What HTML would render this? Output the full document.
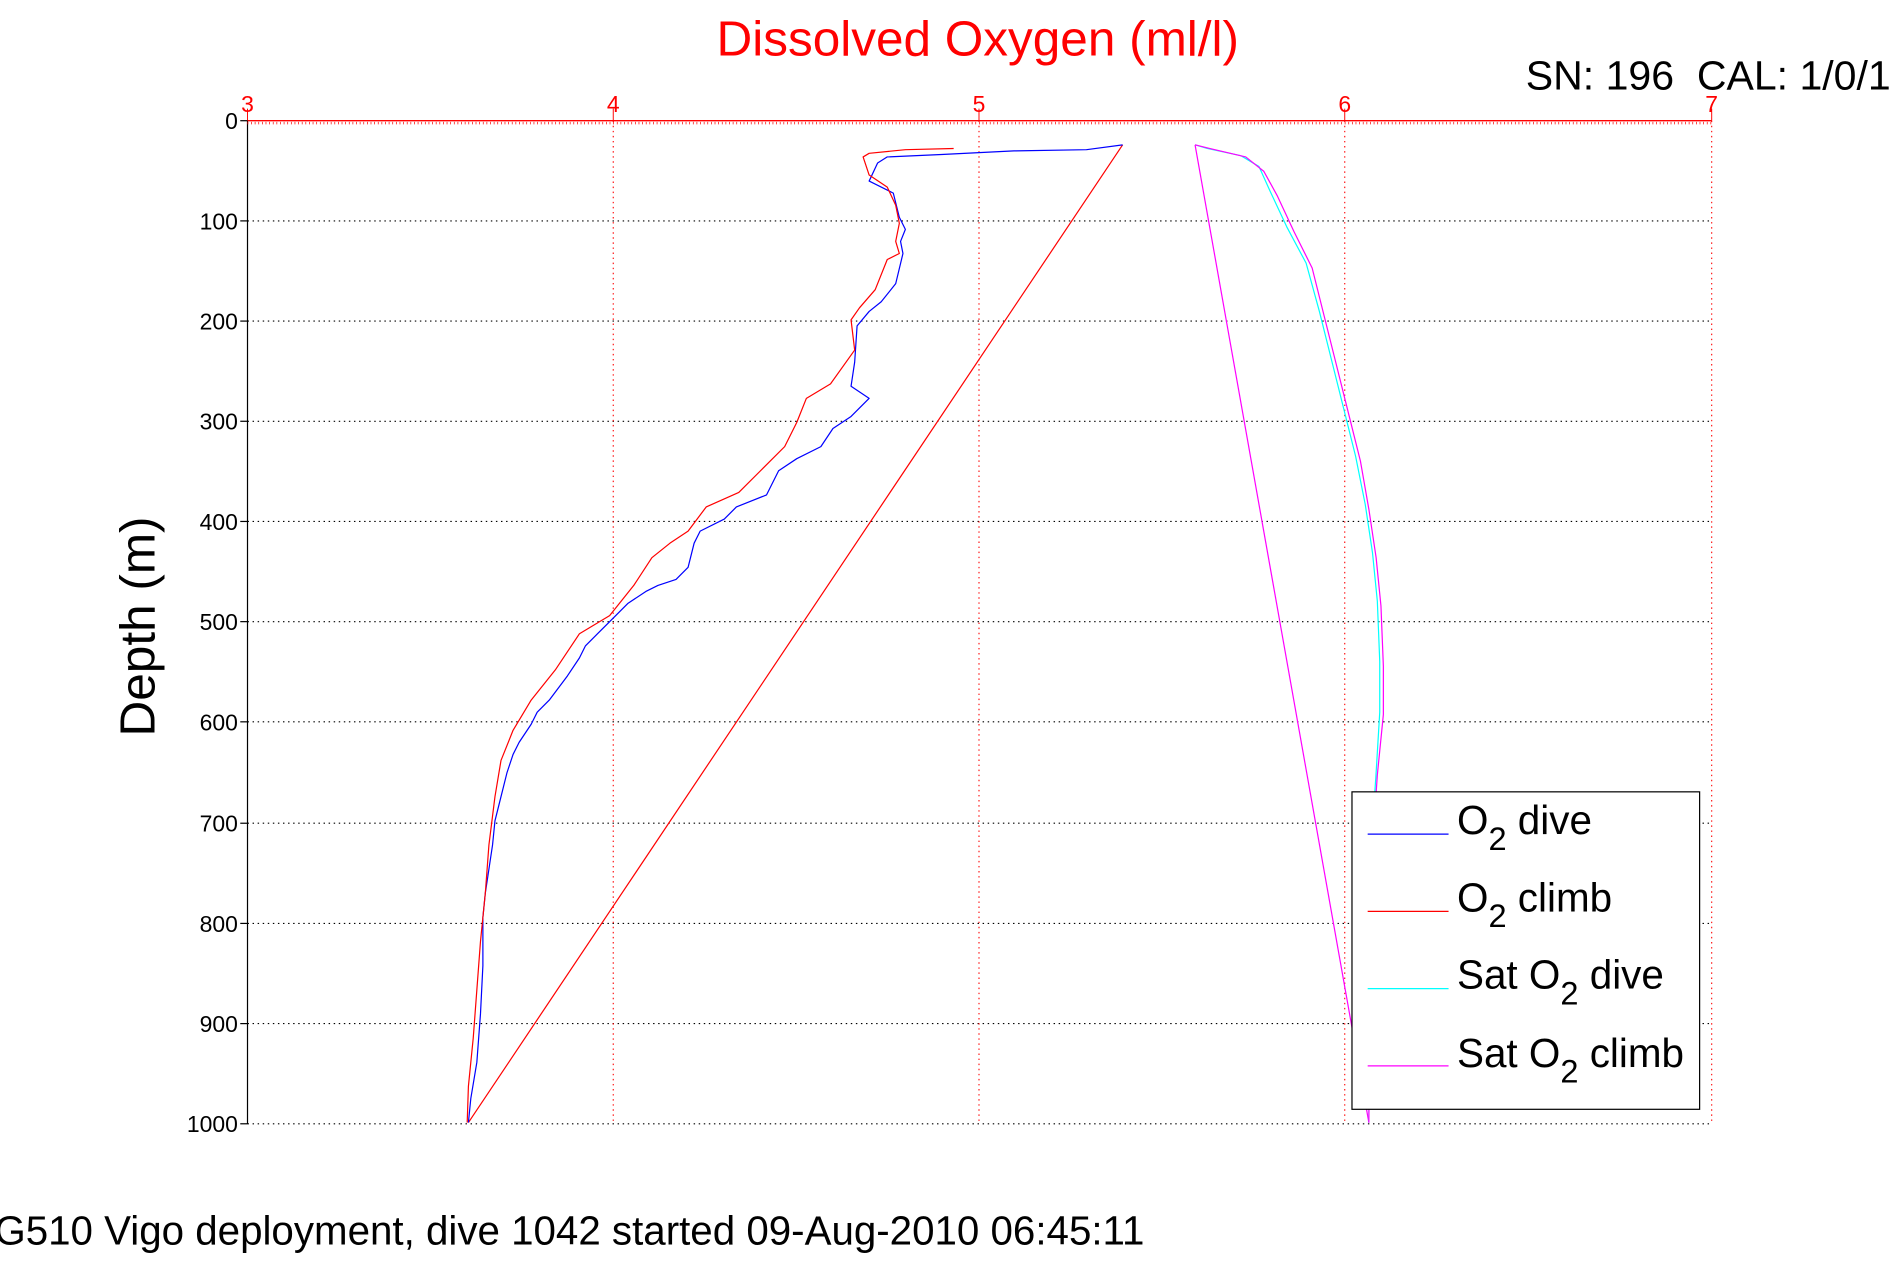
<!DOCTYPE html>
<html><head><meta charset="utf-8"><style>
html,body{margin:0;padding:0;background:#fff;}
svg{display:block;}
text{font-family:"Liberation Sans",sans-serif;}
</style></head><body>
<svg width="1891" height="1262" viewBox="0 0 1566.5 1045.5" xmlns="http://www.w3.org/2000/svg">
<rect width="1570" height="1050" fill="#fff"/>
<g stroke="#000" stroke-width="0.9" stroke-dasharray="1.2,3" fill="none">
<line x1="205" y1="183" x2="1418" y2="183"/><line x1="205" y1="266" x2="1418" y2="266"/>
<line x1="205" y1="349" x2="1418" y2="349"/><line x1="205" y1="432" x2="1418" y2="432"/>
<line x1="205" y1="515" x2="1418" y2="515"/><line x1="205" y1="598" x2="1418" y2="598"/>
<line x1="205" y1="682" x2="1418" y2="682"/><line x1="205" y1="765" x2="1418" y2="765"/>
<line x1="205" y1="848" x2="1418" y2="848"/><line x1="205" y1="931" x2="1418" y2="931"/>
</g>
<g stroke="#f00" stroke-width="0.9" stroke-dasharray="1.2,3" fill="none">
<line x1="508" y1="100" x2="508" y2="931"/><line x1="811" y1="100" x2="811" y2="931"/>
<line x1="1114" y1="100" x2="1114" y2="931"/><line x1="1418" y1="100" x2="1418" y2="931"/>
</g>
<line x1="205" y1="100" x2="205" y2="931" stroke="#000" stroke-width="1"/>
<line x1="205" y1="100" x2="1418" y2="100" stroke="#f00" stroke-width="1.2"/>
<g stroke="#f00" stroke-width="0.8">
<line x1="205" y1="100" x2="205" y2="90"/><line x1="508" y1="100" x2="508" y2="90"/><line x1="811" y1="100" x2="811" y2="90"/><line x1="1114" y1="100" x2="1114" y2="90"/><line x1="1418" y1="100" x2="1418" y2="90"/>
</g>
<line x1="205" y1="102" x2="1418" y2="102" stroke="#f00" stroke-width="2" stroke-dasharray="0.6,2.4"/>
<g stroke="#000" stroke-width="1">
<line x1="199" y1="100" x2="205" y2="100"/><line x1="199" y1="183" x2="205" y2="183"/><line x1="199" y1="266" x2="205" y2="266"/><line x1="199" y1="349" x2="205" y2="349"/><line x1="199" y1="432" x2="205" y2="432"/><line x1="199" y1="515" x2="205" y2="515"/><line x1="199" y1="598" x2="205" y2="598"/><line x1="199" y1="682" x2="205" y2="682"/><line x1="199" y1="765" x2="205" y2="765"/><line x1="199" y1="848" x2="205" y2="848"/><line x1="199" y1="931" x2="205" y2="931"/>
</g>
<g font-size="19" fill="#f00" text-anchor="middle">
<text x="205" y="93">3</text><text x="508" y="93">4</text><text x="811" y="93">5</text><text x="1114" y="93">6</text><text x="1418" y="93">7</text>
</g>
<g font-size="19" fill="#000" text-anchor="end">
<text x="197" y="107">0</text><text x="197" y="190">100</text><text x="197" y="273">200</text><text x="197" y="356">300</text><text x="197" y="439">400</text><text x="197" y="522">500</text><text x="197" y="605">600</text><text x="197" y="689">700</text><text x="197" y="772">800</text><text x="197" y="855">900</text><text x="197" y="938">1000</text>
</g>
<text x="810" y="46" font-size="41" fill="#f00" text-anchor="middle">Dissolved Oxygen (ml/l)</text>
<text x="1264" y="74" font-size="34" fill="#000">SN: 196&#160;&#160;CAL: 1/0/1</text>
<text transform="translate(128,519) rotate(-90)" font-size="41" fill="#000" text-anchor="middle">Depth (m)</text>
<text x="-27" y="1031" font-size="33.4" fill="#000">SG510 Vigo deployment, dive 1042 started 09-Aug-2010 06:45:11</text>
<g fill="none" stroke-width="1" stroke-linejoin="round">
<polyline stroke="#f00" points="930,120 388,930"/>
<polyline stroke="#f0f" points="990,120 1134,930"/>
<polyline stroke="#00f" points="930,120 900,124 840,125 780,128 735,130 727,135 720,150 740,160 745,180 750,190 746,200 748,210 742,235 730,250 720,258 710,270 708,300 705,320 720,330 705,345 690,355 680,370 660,380 645,390 635,410 610,420 600,430 580,440 575,450 570,470 560,480 545,485 535,490 520,500 505,515 495,525 485,535 480,545 470,560 455,580 445,590 440,600 430,615 425,625 420,640 415,660 410,680 408,700 405,720 402,740 400,760 400,800 398,840 395,880 390,910 388,930"/>
<polyline stroke="#f00" points="790,123 750,124 720,127 715,130 720,145 735,155 742,170 745,185 742,200 745,210 735,215 725,240 712,255 705,265 708,290 688,318 668,330 660,350 650,370 630,390 612,408 585,420 570,440 555,450 540,462 525,485 505,510 480,525 470,540 460,555 440,580 425,605 415,630 410,660 405,700 402,740 398,780 395,820 392,860 388,900 387,930"/>
<polyline stroke="#0ff" points="990,120 1000,123 1028,129 1043,138 1052,158 1066,188 1082,218 1093,258 1103,298 1113,338 1123,378 1131,418 1137,458 1141,498 1143,548 1143,590 1140,640 1136,700 1134,800 1134,930"/>
<polyline stroke="#f0f" points="990,120 1002,123 1032,130 1047,142 1058,162 1072,192 1087,222 1097,262 1107,302 1117,342 1127,382 1134,422 1140,462 1144,502 1146,552 1146,592 1141,642 1137,702 1135,800 1134,930"/>
</g>
<rect x="1120" y="656" width="288" height="263" fill="#fff" stroke="#000" stroke-width="1"/>
<g stroke-width="1">
<line x1="1133" y1="691" x2="1200" y2="691" stroke="#00f"/>
<line x1="1133" y1="755" x2="1200" y2="755" stroke="#f00"/>
<line x1="1133" y1="819" x2="1200" y2="819" stroke="#0ff"/>
<line x1="1133" y1="883" x2="1200" y2="883" stroke="#f0f"/>
</g>
<g font-size="33.5" fill="#000">
<text x="1207" y="691">O<tspan font-size="27" dy="13">2</tspan><tspan dy="-13"> dive</tspan></text>
<text x="1207" y="755">O<tspan font-size="27" dy="13">2</tspan><tspan dy="-13"> climb</tspan></text>
<text x="1207" y="819">Sat O<tspan font-size="27" dy="13">2</tspan><tspan dy="-13"> dive</tspan></text>
<text x="1207" y="884">Sat O<tspan font-size="27" dy="13">2</tspan><tspan dy="-13"> climb</tspan></text>
</g>
</svg>
</body></html>
